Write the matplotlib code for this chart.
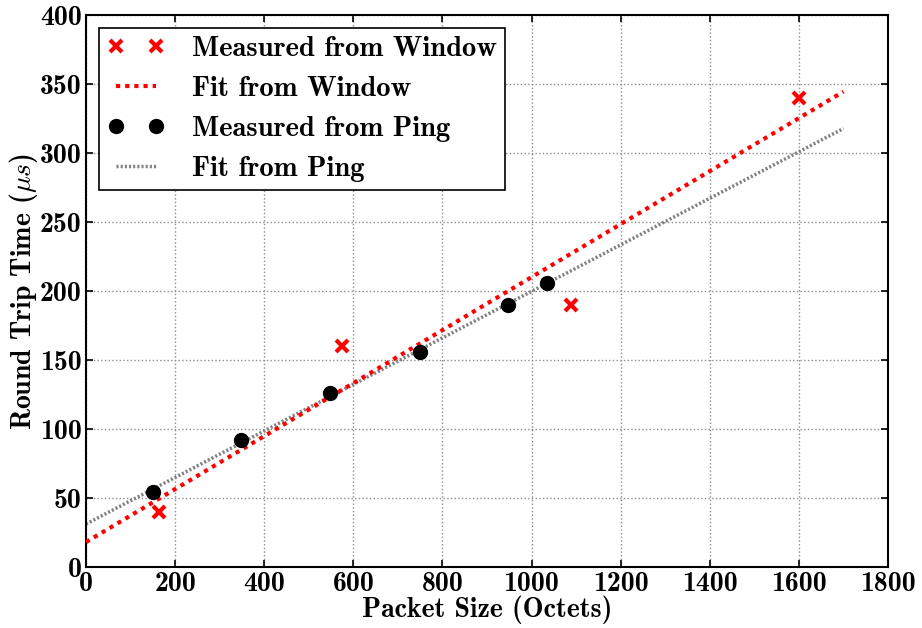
import numpy as np
import matplotlib
matplotlib.use("Agg")
import matplotlib.pyplot as plt

plt.rcParams['font.family'] = ['cmb10', 'DejaVu Serif']
plt.rcParams['mathtext.fontset'] = 'cm'
plt.rcParams['axes.unicode_minus'] = False
plt.rcParams['axes.formatter.use_mathtext'] = False

win_x = [163, 575, 1088, 1600]
win_y = [40, 160, 190, 340]
ping_x = [150, 348, 548, 750, 948, 1035]
ping_y = [54, 92, 126, 156, 190, 206]
fit_range = [0, 1700]

fig = plt.figure(figsize=(9.22, 6.28), dpi=100)
ax = fig.add_axes([86/922, 1-567/628, (888-86)/922, (567-15)/628])

wc = np.polyfit(win_x, win_y, 1)
pc = np.polyfit(ping_x, ping_y, 1)
fx = np.array(fit_range, dtype=float)

ax.plot(win_x, win_y, 'x', color='red', ms=8, mew=3, label='Measured from Window', zorder=4)
ax.plot(fx, np.polyval(wc, fx), linestyle=(0, (1, 1.2)), color='red', lw=3, label='Fit from Window', zorder=3)
ax.plot(ping_x, ping_y, 'o', color='black', ms=10, label='Measured from Ping', zorder=4)
ax.plot(fx, np.polyval(pc, fx), linestyle=(0, (0.6, 0.6)), color='0.5', lw=2.5, label='Fit from Ping', zorder=2)

ax.set_xlim(0, 1800)
ax.set_ylim(0, 400)
ax.set_xticks(np.arange(0, 1801, 200))
ax.set_yticks(np.arange(0, 401, 50))
ax.grid(True, color='0.55', linestyle=':', lw=1)
ax.tick_params(labelsize=20, direction='in', length=5, width=1.2, pad=3)
ax.tick_params(top=True, right=True)
for s in ax.spines.values():
    s.set_linewidth(1.5)
ax.set_xlabel('Packet Size (Octets)', fontsize=20, labelpad=-1)
ax.set_ylabel(r'Round Trip Time ($\mu s$)', fontsize=20, labelpad=0)

leg = ax.legend(loc='upper left', numpoints=2, fontsize=20.6, fancybox=False,
                edgecolor='black', framealpha=1, borderaxespad=0.45,
                handlelength=2.0, labelspacing=0.48, handletextpad=0.95,
                borderpad=0.3)
leg.get_frame().set_linewidth(1.2)

fig.savefig('out.png', dpi=100)
